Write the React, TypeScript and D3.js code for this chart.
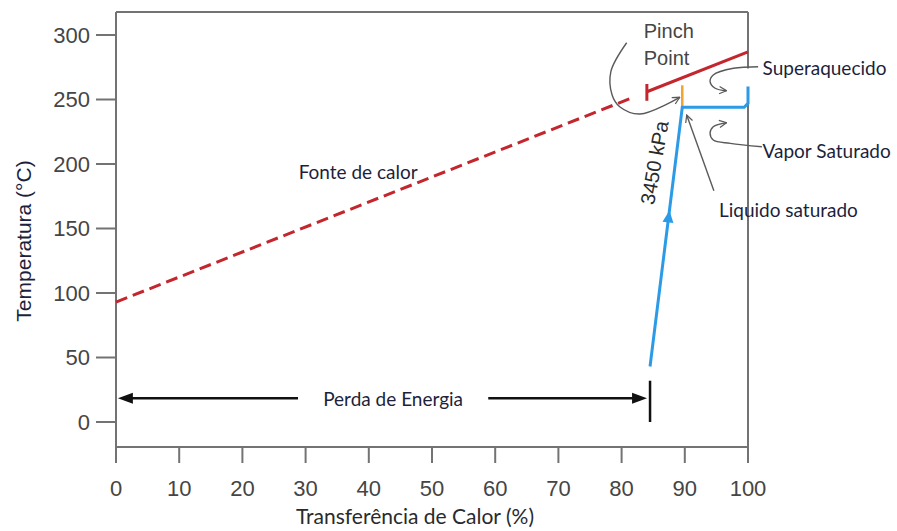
import React from "react";
import * as d3 from "d3";

const W = 897;
const H = 531;

const xTicks = [0, 10, 20, 30, 40, 50, 60, 70, 80, 90, 100];
const yTicks = [0, 50, 100, 150, 200, 250, 300];

// Heat source temperature profile: [% heat transferred, °C]
const fonteDashed: [number, number][] = [[0, 93], [82, 252]];
const fonteSolid: [number, number][] = [[84, 256], [100, 287]];
const pinchCap: [number, number][] = [[84, 249], [84, 262]];
const pinchMarker: [number, number][] = [[89.6, 244], [89.6, 261]];

// Working fluid at 3450 kPa: heating, evaporation, superheating
const fluido: [number, number][] = [[84.5, 43], [89.6, 244], [99.4, 244], [100, 247], [100, 260]];
const fluidoArrowT = 164;

// Energy lost to the stack
const perdaFrom = 0.3;
const perdaTo = 84.5;
const perdaT = 18.5;
const perdaBar: [number, number] = [0, 32];
const perdaTextGap: [number, number] = [28.8, 58.9];

// Annotation leaders (data space)
const pinchLoop: [number, number][] = [[80.8, 294], [78.3, 271.6], [78.5, 253.5], [79.7, 244.4], [82.9, 238.8], [89.2, 251.7]];
const superLeader: [number, number][] = [[101.6, 275.4], [97.7, 274.2], [94.5, 269], [94.0, 263.8], [94.8, 258.7], [96.6, 256.8]];
const vaporLeader: [number, number][] = [[102.2, 213.4], [97.2, 216.0], [94.5, 218.6], [94.0, 223.8], [94.5, 228.9], [96.6, 232.0]];
const liquidoLeader: [number, number][] = [[94.6, 179.3], [90.3, 238.0]];

const RED = "#c3262d";
const BLUE = "#2b9be8";
const ORANGE = "#eea531";
const FRAME = "#737373";
const GREY_TEXT = "#454545";
const NAVY = "#1d1f3c";
const HUMANIST = "Lato, 'Open Sans', sans-serif";
const ARIAL = "'Liberation Sans', Arial, sans-serif";

function triangle(tx: number, ty: number, fx: number, fy: number, len: number, half: number) {
  const dx = tx - fx;
  const dy = ty - fy;
  const d = Math.hypot(dx, dy);
  const ux = dx / d;
  const uy = dy / d;
  const bx = tx - ux * len;
  const by = ty - uy * len;
  return `M${tx},${ty}L${bx - uy * half},${by + ux * half}L${bx + uy * half},${by - ux * half}Z`;
}

export default function App() {
  const x = d3.scaleLinear().domain([0, 100]).range([116, 748]);
  const y = d3.scaleLinear().domain([0, 300]).range([422, 35]);
  const line = d3.line<[number, number]>().x((d) => x(d[0])).y((d) => y(d[1]));
  const smooth = d3
    .line<[number, number]>()
    .x((d) => x(d[0]))
    .y((d) => y(d[1]))
    .curve(d3.curveCatmullRom.alpha(0.5));

  const frameTop = 12;
  const frameBottom = 447;
  const x0 = x(0);
  const x1 = x(100);

  // direction arrow on the liquid-heating segment
  const [a, b] = [fluido[0], fluido[1]];
  const frac = (fluidoArrowT - a[1]) / (b[1] - a[1]);
  const tipX = x(a[0] + frac * (b[0] - a[0]));
  const tipY = y(fluidoArrowT);
  const blueHead = triangle(tipX, tipY, x(a[0]), y(a[1]), 12, 5.5);

  const py = y(perdaT);
  const leftHead = triangle(x(perdaFrom), py, x(perdaFrom) + 10, py, 15, 5.5);
  const rightTip = x(perdaTo) - 3;
  const rightHead = triangle(rightTip, py, rightTip - 10, py, 15, 5.5);

  return (
    <svg
      width={W}
      height={H}
      viewBox={`0 0 ${W} ${H}`}
      style={{ position: "absolute", left: 0, top: 0, display: "block", background: "#fff" }}
    >
      <defs>
        <marker id="chev" viewBox="0 0 10 10" refX="9" refY="5" markerWidth="9" markerHeight="9" markerUnits="userSpaceOnUse" orient="auto">
          <path d="M1,1L9,5L1,9" fill="none" stroke="#5a5a5a" strokeWidth={1.4} />
        </marker>
      </defs>
      <rect width={W} height={H} fill="#fff" />

      {/* plot frame */}
      <g stroke={FRAME} strokeWidth={2} fill="none">
        <line x1={x0} x2={x1} y1={frameTop} y2={frameTop} />
        <line x1={x0} x2={x0} y1={frameTop} y2={frameBottom + 16} />
        <line x1={x0} x2={x1} y1={frameBottom} y2={frameBottom} />
        <line x1={x1} x2={x1} y1={frameTop} y2={y(274)} />
        <line x1={x1} x2={x1} y1={y(258)} y2={frameBottom + 16} />
      </g>

      {/* y axis */}
      <g>
        {yTicks.map((t) => (
          <g key={t}>
            <line x1={x0 - 20} x2={x0} y1={y(t)} y2={y(t)} stroke={FRAME} strokeWidth={2} />
            <text
              x={x0 - 26}
              y={y(t)}
              textAnchor="end"
              dominantBaseline="central"
              fontFamily={ARIAL}
              fontSize={22}
              fill={GREY_TEXT}
            >
              {t}
            </text>
          </g>
        ))}
      </g>

      {/* x axis */}
      <g>
        {xTicks.map((t) => (
          <g key={t}>
            <line x1={x(t)} x2={x(t)} y1={frameBottom} y2={frameBottom + 16} stroke={FRAME} strokeWidth={2} />
            <text
              x={x(t)}
              y={488}
              textAnchor="middle"
              dominantBaseline="central"
              fontFamily={ARIAL}
              fontSize={22}
              fill={GREY_TEXT}
            >
              {t}
            </text>
          </g>
        ))}
      </g>

      {/* axis titles */}
      <text
        transform={`translate(23,241) rotate(-90)`}
        textAnchor="middle"
        dominantBaseline="central"
        fontFamily={ARIAL}
        fontSize={21}
        fill={NAVY}
      >
        Temperatura (°C)
      </text>
      <text x={415} y={524} textAnchor="middle" fontFamily={HUMANIST} fontSize={21} fill="#2a2a2a">
        Transferência de Calor (%)
      </text>

      {/* heat source */}
      <path d={line(fonteDashed) ?? ""} stroke={RED} strokeWidth={3} fill="none" strokeDasharray="12 6" />
      <path d={line(fonteSolid) ?? ""} stroke={RED} strokeWidth={3} fill="none" />
      <path d={line(pinchCap) ?? ""} stroke={RED} strokeWidth={3} fill="none" />

      {/* pinch temperature difference */}
      <path d={line(pinchMarker) ?? ""} stroke={ORANGE} strokeWidth={2.5} fill="none" />

      {/* working fluid */}
      <path d={line(fluido) ?? ""} stroke={BLUE} strokeWidth={3} fill="none" strokeLinejoin="miter" />
      <path d={blueHead} fill={BLUE} />

      {/* energy loss arrow */}
      <g stroke="#111" strokeWidth={2.5}>
        <line x1={x(perdaFrom) + 10} x2={x(perdaTextGap[0])} y1={py} y2={py} />
        <line x1={x(perdaTextGap[1])} x2={rightTip - 10} y1={py} y2={py} />
        <line x1={x(perdaTo)} x2={x(perdaTo)} y1={y(perdaBar[0])} y2={y(perdaBar[1])} />
      </g>
      <path d={leftHead} fill="#111" />
      <path d={rightHead} fill="#111" />
      <text
        x={(x(perdaTextGap[0]) + x(perdaTextGap[1])) / 2}
        y={py}
        textAnchor="middle"
        dominantBaseline="central"
        fontFamily={HUMANIST}
        fontSize={19}
        fill={NAVY}
      >
        Perda de Energia
      </text>

      {/* annotations */}
      <g fill="none" stroke="#5a5a5a" strokeWidth={1.4}>
        <path d={smooth(pinchLoop) ?? ""} markerEnd="url(#chev)" />
        <path d={smooth(superLeader) ?? ""} markerEnd="url(#chev)" />
        <path d={smooth(vaporLeader) ?? ""} markerEnd="url(#chev)" />
        <path d={line(liquidoLeader) ?? ""} markerEnd="url(#chev)" />
      </g>

      <text fontFamily={ARIAL} fontSize={20} fill={GREY_TEXT}>
        <tspan x={x(83.5)} y={y(298)}>Pinch</tspan>
        <tspan x={x(83.5)} y={y(276.5)}>Point</tspan>
      </text>

      <text
        transform={`translate(${x(85.2)},${y(201)}) rotate(-80)`}
        textAnchor="middle"
        dominantBaseline="central"
        fontFamily={ARIAL}
        fontSize={20}
        fill="#2a2a2a"
      >
        3450 kPa
      </text>

      <text x={x(102.3)} y={y(269)} fontFamily={HUMANIST} fontSize={19} fill={NAVY}>
        Superaquecido
      </text>
      <text x={x(102.3)} y={y(205)} fontFamily={HUMANIST} fontSize={19} fill={NAVY}>
        Vapor Saturado
      </text>
      <text x={x(95.4)} y={y(159)} fontFamily={HUMANIST} fontSize={19} fill={NAVY}>
        Liquido saturado
      </text>
      <text x={x(28.9)} y={y(188)} fontFamily={HUMANIST} fontSize={19} fill={NAVY}>
        Fonte de calor
      </text>
    </svg>
  );
}
